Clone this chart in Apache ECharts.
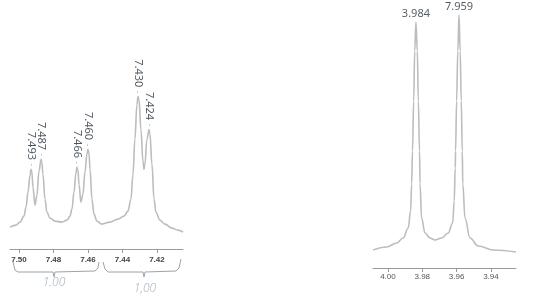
<!DOCTYPE html>
<html>
<head>
<meta charset="utf-8">
<script src="https://cdn.jsdelivr.net/npm/echarts@6/dist/echarts.min.js"></script>
<style>html,body{margin:0;padding:0;background:#fff;}#c{width:560px;height:304px;}</style>
</head>
<body>
<div id="c"></div>
<script>
// Aromatic region (ppm, intensity)
const aromPpm = [7.5052,7.5017,7.4994,7.4971,7.4959,7.4948,7.4936,7.4930,7.4925,7.4919,7.4907,7.4896,7.4884,7.4872,7.4867,7.4861,7.4849,7.4838,7.4820,7.4791,7.4751,7.4722,7.4704,7.4693,7.4681,7.4670,7.4664,7.4658,7.4652,7.4641,7.4629,7.4617,7.4606,7.4600,7.4594,7.4588,7.4577,7.4565,7.4548,7.4519,7.4473,7.4426,7.4391,7.4368,7.4351,7.4339,7.4328,7.4316,7.4310,7.4304,7.4293,7.4281,7.4275,7.4270,7.4258,7.4246,7.4241,7.4229,7.4217,7.4206,7.4183,7.4154,7.4113,7.4078,7.4049];
const aromInt = [22,24,27,33,42,57,74,80,77,62,44,54,78,90,87,75,50,37,31,28,27,29,33,40,57,76,82,79,65,47,55,78,95,100,96,80,50,35,28,25,27,30,33,38,50,75,110,145,153,150,120,88,80,85,110,120,116,85,50,37,29,25,21,19,17];
const aromPeakPpm = [7.4930,7.4872,7.4664,7.4600,7.4310,7.4246];
const aromPeakInt = [80,90,82,100,153,120];
const aromPeakLabels = ['7.493','7.487','7.466','7.460','7.430','7.424'];
const aromTicks = [7.42,7.44,7.46,7.48,7.50];
const aromMinor = [7.41,7.43,7.45,7.47,7.49];

// OCH3 region (ppm, intensity)
const mePpm = [4.0086,4.0008,3.9949,3.9911,3.9882,3.9868,3.9862,3.9857,3.9850,3.9844,3.9837,3.9829,3.9823,3.9816,3.9813,3.9804,3.9784,3.9755,3.9726,3.9687,3.9649,3.9623,3.9614,3.9608,3.9606,3.9600,3.9593,3.9586,3.9579,3.9573,3.9567,3.9564,3.9551,3.9522,3.9474,3.9386,3.9254];
const meInt = [18,21,25,30,40,57,84,117,167,217,246,217,167,117,84,50,35,30,28,30,35,45,67,100,117,167,217,253,217,167,117,84,50,30,22,18,16];
const mePeakPpm = [3.9837,3.9586];
const mePeakInt = [246,253];
const mePeakLabels = ['3.984','7.959'];
const meTicks = [3.94,3.96,3.98,4.00];
const meMinor = [3.93,3.95,3.97,3.99];

const integralLabels = ['1.00','1,00'];

const zip = (a,b) => a.map((v,i)=>[v,b[i]]);
const lineColor = '#bdbdbd';
const axisColor = '#9a9a9a';

function mkX(gi, min, max, ticks, minor, lblStyle) {
  return [{
    type:'value', gridIndex:gi, inverse:true, min:min, max:max,
    axisLine:{show:true, lineStyle:{color:axisColor,width:1}},
    axisTick:{show:true, customValues:ticks, length:4, lineStyle:{color:axisColor}},
    axisLabel:Object.assign({customValues:ticks, formatter:v=>v.toFixed(2)}, lblStyle),
    splitLine:{show:false}
  },{
    type:'value', gridIndex:gi, inverse:true, min:min, max:max,
    axisLine:{show:false},
    axisTick:{show:true, customValues:minor, length:2, lineStyle:{color:axisColor}},
    axisLabel:{show:false},
    splitLine:{show:false}
  }];
}

const chart = echarts.init(document.getElementById('c'), null, {renderer:'canvas'});
const xAxes = mkX(0, 7.4049, 7.5052, aromTicks, aromMinor,
  {color:'#444', fontSize:8, fontWeight:'bold', fontFamily:'Liberation Sans', margin:7})
  .concat(mkX(1, 3.9254, 4.0087, meTicks, meMinor,
  {color:'#555', fontSize:8, fontFamily:'Liberation Sans', margin:5}));

chart.setOption({
  animation:false,
  backgroundColor:'#fff',
  grid:[
    {left:10, width:173, top:0, height:249},
    {left:373, width:143, top:0, height:268}
  ],
  xAxis: xAxes,
  yAxis:[
    {type:'value', gridIndex:0, min:0, max:250, show:false},
    {type:'value', gridIndex:1, min:0, max:268, show:false}
  ],
  series:[
    {type:'line', xAxisIndex:0, yAxisIndex:0, data:zip(aromPpm,aromInt), showSymbol:false,
      smooth:0.4, smoothMonotone:'x', lineStyle:{color:lineColor,width:1.6}, silent:true},
    {type:'line', xAxisIndex:2, yAxisIndex:1, data:zip(mePpm,meInt), showSymbol:false,
      smooth:0.4, smoothMonotone:'x', lineStyle:{color:lineColor,width:1.6}, silent:true},
    {type:'scatter', xAxisIndex:0, yAxisIndex:0, symbolSize:0,
      data:aromPeakPpm.map((p,i)=>({value:[p,aromPeakInt[i]], name:aromPeakLabels[i]})),
      label:{show:true, position:'top', distance:3, rotate:-90, align:'right', verticalAlign:'middle',
        formatter:p=>'{t|'+p.name+'} {d|-}',
        rich:{t:{color:'#1f2a36', fontSize:11, fontFamily:'Noto Sans'}, d:{color:'#aaa', fontSize:9}}}},
    {type:'scatter', xAxisIndex:2, yAxisIndex:1, symbolSize:0,
      data:mePeakPpm.map((p,i)=>({value:[p,mePeakInt[i]], name:mePeakLabels[i]})),
      label:{show:true, position:'top', distance:3, color:'#2a3440', fontSize:11, fontFamily:'Noto Sans',
        formatter:p=>p.name}}
  ],
  graphic:[
    {type:'polyline', shape:{points:[[13,262],[15,270],[18,272],[53,272],[54,277],[55,272],[95,271],[98,268],[99,262]]},
      style:{stroke:'#9aa4ad', lineWidth:1, fill:null}},
    {type:'polyline', shape:{points:[[103,262],[105,269],[108,272],[143,272],[144,277],[145,272],[176,271],[179,268],[181,259]]},
      style:{stroke:'#9aa4ad', lineWidth:1, fill:null}},
    {type:'text', x:54, y:283, style:{text:integralLabels[0], fill:'#a3aeb8', font:'italic 300 12px "Open Sans"', align:'center', verticalAlign:'middle'}},
    {type:'text', x:145, y:289, style:{text:integralLabels[1], fill:'#a3aeb8', font:'italic 300 12px "Open Sans"', align:'center', verticalAlign:'middle'}}
  ]
});
</script>
</body>
</html>
